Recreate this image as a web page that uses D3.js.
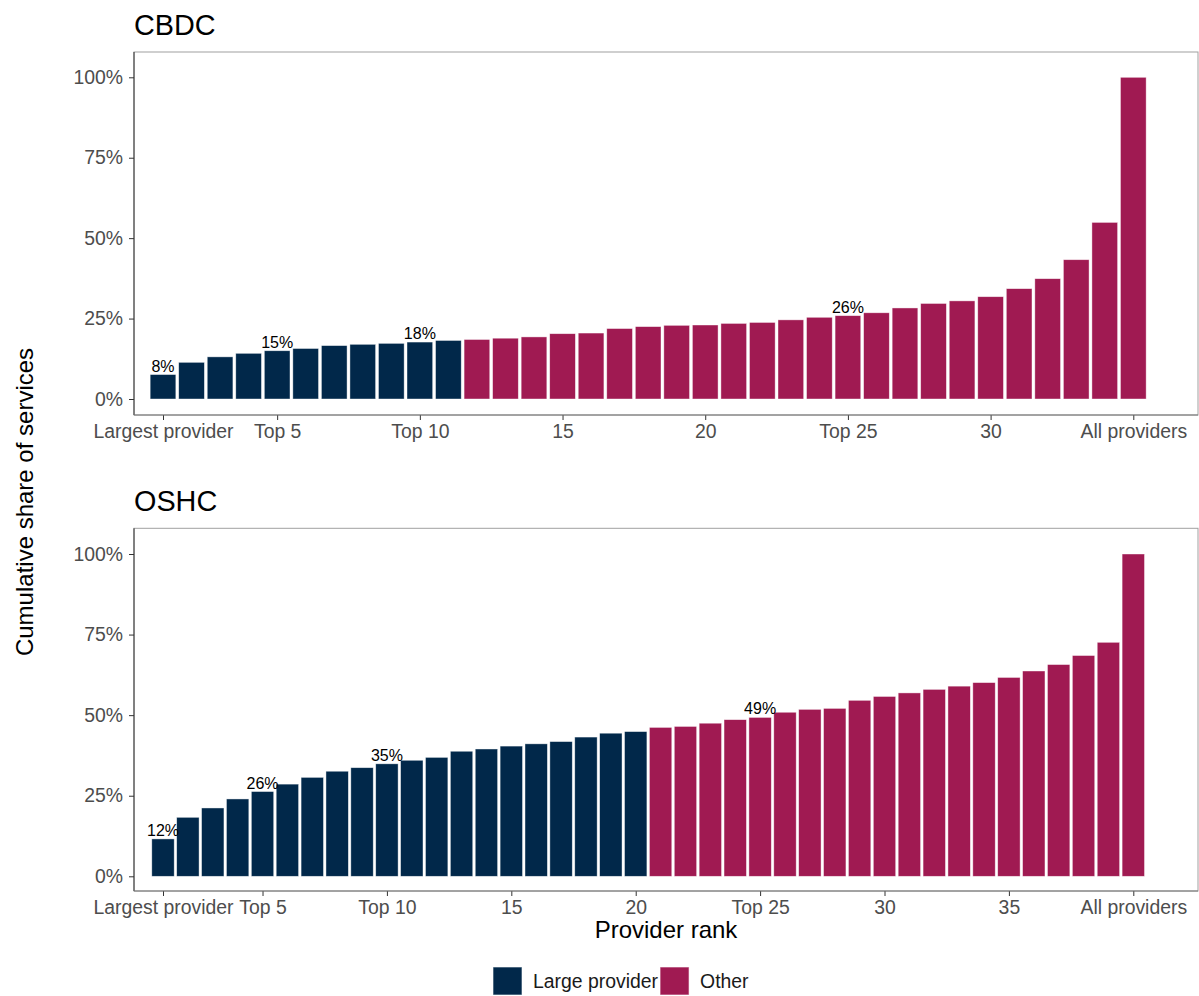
<!DOCTYPE html>
<html>
<head>
<meta charset="utf-8">
<script src="https://cdn.jsdelivr.net/npm/d3@7"></script>
<style>
body { margin: 0; background: #fff; }
text { font-family: "Liberation Sans", Arial, sans-serif; }
</style>
</head>
<body>
<svg width="1199" height="996"></svg>
<script>
// cumulative share of services (%) by provider rank
const cbdcShare = [7.6, 11.4, 13.1, 14.2, 15.0, 15.7, 16.6, 17.0, 17.3, 17.7,
	18.2, 18.5, 18.9, 19.3, 20.3, 20.5, 21.9, 22.5, 22.9, 23.0,
	23.5, 23.8, 24.6, 25.4, 25.9, 26.8, 28.3, 29.7, 30.5, 31.8,
	34.3, 37.4, 43.3, 54.9, 100]
const cbdcLarge = 11
const cbdcTicks = [1, 5, 10, 15, 20, 25, 30, 35]
const cbdcTickLabels = ['Largest provider', 'Top 5', 'Top 10', '15', '20', 'Top 25', '30', 'All providers']
const cbdcLabelled = [1, 5, 10, 25]

const oshcShare = [11.6, 18.3, 21.2, 24.0, 26.3, 28.6, 30.7, 32.6, 33.7, 34.9,
	36.0, 36.9, 38.8, 39.5, 40.4, 41.1, 41.8, 43.2, 44.4, 44.9,
	46.2, 46.5, 47.5, 48.6, 49.3, 50.9, 51.8, 52.1, 54.6, 55.8,
	56.9, 58.0, 59.0, 60.1, 61.7, 63.7, 65.7, 68.5, 72.6, 100]
const oshcLarge = 20
const oshcTicks = [1, 5, 10, 15, 20, 25, 30, 35, 40]
const oshcTickLabels = ['Largest provider', 'Top 5', 'Top 10', '15', '20', 'Top 25', '30', '35', 'All providers']
const oshcLabelled = [1, 5, 10, 25]

const yTicks = [0, 25, 50, 75, 100]
const groups = ['Large provider', 'Other']
const colors = ['#01284a', '#a01a52']

const svg = d3.select('svg')
const panelLeft = 134
const panelRight = 1198

const panels = [
	{title: 'CBDC', values: cbdcShare, large: cbdcLarge, ticks: cbdcTicks, tickLabels: cbdcTickLabels, labelled: cbdcLabelled,
		top: 52, bottom: 415, y0: 399, y100: 77.3},
	{title: 'OSHC', values: oshcShare, large: oshcLarge, ticks: oshcTicks, tickLabels: oshcTickLabels, labelled: oshcLabelled,
		top: 528.3, bottom: 891, y0: 876.3, y100: 554}
]

panels.forEach(p => {
	const n = p.values.length
	const x = d3.scaleLinear().domain([1, n]).range([163, 1133.3])
	const y = d3.scaleLinear().domain([0, 100]).range([p.y0, p.y100])
	const step = x(2) - x(1)
	const bw = step * 0.9
	const g = svg.append('g')

	// panel border
	g.append('rect')
		.attr('x', panelLeft).attr('y', p.top)
		.attr('width', panelRight - panelLeft).attr('height', p.bottom - p.top)
		.attr('fill', 'none').attr('stroke', '#a0a0a0').attr('stroke-width', 1)

	const data = p.values.map((v, i) => ({rank: i + 1, v, group: i < p.large ? 0 : 1}))

	g.selectAll('rect.bar')
		.data(data)
		.join('rect')
		.attr('class', 'bar')
		.attr('x', d => x(d.rank) - bw / 2)
		.attr('width', bw)
		.attr('y', d => y(d.v))
		.attr('height', d => y(0) - y(d.v))
		.attr('fill', d => colors[d.group])
		.attr('stroke', '#fff')
		.attr('stroke-opacity', 0.6)
		.attr('stroke-width', 0.7)

	g.selectAll('text.lab')
		.data(data.filter(d => p.labelled.includes(d.rank)))
		.join('text')
		.attr('class', 'lab')
		.attr('x', d => x(d.rank))
		.attr('y', d => y(d.v) - 3)
		.attr('text-anchor', 'middle')
		.attr('font-size', 16)
		.attr('fill', '#000')
		.text(d => Math.round(d.v) + '%')

	// axes
	const yAxis = g.append('g')
		.attr('transform', `translate(${panelLeft},0)`)
		.call(d3.axisLeft(y).tickValues(yTicks).tickFormat(d => d + '%').tickSize(5).tickPadding(6))
	const xAxis = g.append('g')
		.attr('transform', `translate(0,${p.bottom})`)
		.call(d3.axisBottom(x).tickValues(p.ticks).tickFormat((d, i) => p.tickLabels[i]).tickSize(5).tickPadding(4))

	;[xAxis, yAxis].forEach(a => {
		a.select('.domain').remove()
		a.selectAll('line').attr('stroke', '#333')
		a.selectAll('text').attr('font-size', 19.4).attr('fill', '#4d4d4d')
			.style('font-family', '"Liberation Sans", Arial, sans-serif')
	})

	g.append('line')
		.attr('x1', panelLeft).attr('x2', panelLeft)
		.attr('y1', p.top).attr('y2', p.bottom)
		.attr('stroke', '#333')
	g.append('line')
		.attr('x1', panelLeft).attr('x2', panelRight)
		.attr('y1', p.bottom).attr('y2', p.bottom)
		.attr('stroke', '#777')

	g.append('text')
		.attr('x', panelLeft)
		.attr('y', p.top - 17)
		.attr('font-size', 28.8)
		.attr('fill', '#000')
		.text(p.title)
})

svg.append('text')
	.attr('x', (panelLeft + panelRight) / 2)
	.attr('y', 938)
	.attr('text-anchor', 'middle')
	.attr('font-size', 24)
	.attr('fill', '#000')
	.text('Provider rank')

svg.append('text')
	.attr('transform', 'translate(33,502) rotate(-90)')
	.attr('text-anchor', 'middle')
	.attr('font-size', 24)
	.attr('fill', '#000')
	.text('Cumulative share of services')

// legend
let lx = 493
groups.forEach((name, i) => {
	svg.append('rect')
		.attr('x', lx).attr('y', 967)
		.attr('width', 29).attr('height', 28)
		.attr('fill', colors[i])
		.attr('stroke', '#fff').attr('stroke-opacity', 0.6)
	const t = svg.append('text')
		.attr('x', lx + 40).attr('y', 981)
		.attr('dy', '0.35em')
		.attr('font-size', 19.4)
		.attr('fill', '#1a1a1a')
		.text(name)
	lx = lx + 40 + t.node().getComputedTextLength() + 2
})
</script>
</body>
</html>
